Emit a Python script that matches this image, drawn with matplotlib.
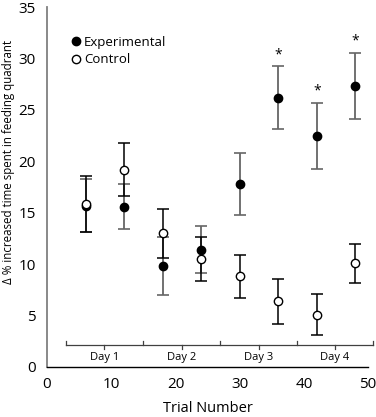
import matplotlib
matplotlib.use("Agg")
import matplotlib.pyplot as plt
from matplotlib.lines import Line2D

# data
trials = [6, 12, 18, 24, 30, 36, 42, 48]
exp_mean = [15.7, 15.6, 9.8, 11.4, 17.8, 26.2, 22.5, 27.35]
exp_err = [2.6, 2.2, 2.8, 2.3, 3.0, 3.05, 3.2, 3.2]
ctrl_mean = [15.85, 19.2, 13.0, 10.5, 8.8, 6.4, 5.1, 10.1]
ctrl_err = [2.7, 2.6, 2.4, 2.1, 2.1, 2.2, 2.0, 1.9]
signif = [36, 42, 48]

day_labels = ["Day 1", "Day 2", "Day 3", "Day 4"]
day_edges = [2.9, 14.9, 27.0, 38.9, 50.7]

plt.rcParams['font.family'] = ['Open Sans', 'DejaVu Sans']

fig = plt.figure(figsize=(3.76, 4.17), dpi=100)
ax = fig.add_axes([0.125, 0.12, 0.854, 0.863])

ax.errorbar(trials, exp_mean, yerr=exp_err, fmt='o', color='black',
            ecolor='#666666', elinewidth=1.3, capsize=4, capthick=1.2,
            markersize=6, zorder=3)
ax.errorbar(trials, ctrl_mean, yerr=ctrl_err, fmt='o', color='black',
            mfc='white', mec='black', ecolor='black', elinewidth=1.1,
            capsize=4, capthick=1.1, markersize=6, zorder=4)

for t in signif:
    i = trials.index(t)
    ax.text(t, exp_mean[i] + exp_err[i] + 0.4, '*', ha='center', va='bottom',
            fontsize=10)

# day brackets along the bottom
by = 2.1
ax.plot([day_edges[0], day_edges[-1]], [by, by], color='#404040', lw=0.9,
        clip_on=False)
for e in day_edges:
    ax.plot([e, e], [by, by + 0.45], color='#404040', lw=0.9, clip_on=False)
for k, lab in enumerate(day_labels):
    c = (day_edges[k] + day_edges[k + 1]) / 2
    ax.plot([c, c], [by, by - 0.4], color='#404040', lw=0.9, clip_on=False)
    ax.text(c, by - 0.6, lab, ha='center', va='top', fontsize=8)

ax.set_xlim(0, 50)
ax.set_ylim(0, 35)
ax.set_xticks([0, 10, 20, 30, 40, 50])
ax.set_yticks([0, 5, 10, 15, 20, 25, 30, 35])
ax.tick_params(length=0, labelsize=11, pad=7)
ax.tick_params(axis='y', pad=8)
ax.spines['top'].set_visible(False)
ax.spines['right'].set_visible(False)
ax.spines['left'].set_color('#808080')
ax.spines['left'].set_linewidth(1.3)
ax.spines['bottom'].set_color('black')
ax.spines['bottom'].set_linewidth(1.0)

ax.set_xlabel('Trial Number', fontsize=10.5, labelpad=7)
ax.set_ylabel('Δ % increased time spent in feeding quadrant', fontsize=8.3,
              labelpad=3)
ax.yaxis.set_label_coords(-0.1, 0.57)

handles = [
    Line2D([], [], ls='none', marker='o', color='black', markersize=6),
    Line2D([], [], ls='none', marker='o', mfc='white', mec='black',
           markersize=6),
]
ax.legend(handles, ['Experimental', 'Control'], loc='upper left',
          bbox_to_anchor=(0.05, 0.935), frameon=False, fontsize=9.5,
          handletextpad=0.0, handlelength=1.2, labelspacing=0.35,
          borderaxespad=0)

fig.savefig('out.png', dpi=100)
